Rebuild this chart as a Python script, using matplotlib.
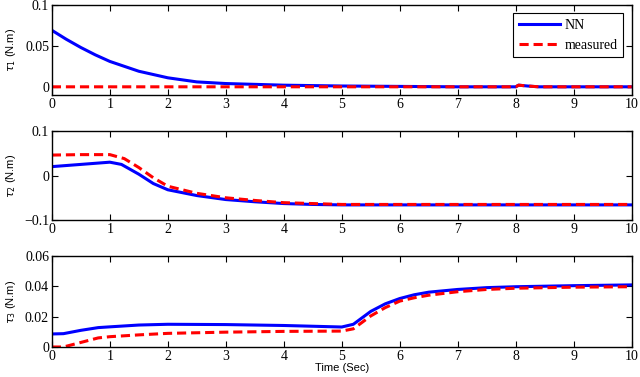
import matplotlib
matplotlib.use("Agg")
import matplotlib.pyplot as plt

# tau_1
t1_nn = [0, 0.25, 0.5, 0.75, 1, 1.25, 1.5, 1.75, 2, 2.5, 3, 3.5, 4, 5, 6, 7, 8, 8.05, 8.2, 8.4, 10]
y1_nn = [0.069, 0.058, 0.048, 0.039, 0.031, 0.025, 0.019, 0.015, 0.011, 0.006, 0.004, 0.003, 0.002, 0.001, 0.0005, 0, 0, 0.002, 0.001, 0, 0]
t1_me = [0, 8, 8.05, 8.2, 8.4, 10]
y1_me = [0, 0, 0.002, 0.001, 0, 0]

# tau_2
t2_nn = [0, 0.5, 1, 1.2, 1.5, 1.75, 2, 2.5, 3, 3.5, 4, 4.5, 5, 10]
y2_nn = [0.02, 0.025, 0.03, 0.025, 0.003, -0.018, -0.032, -0.045, -0.054, -0.059, -0.063, -0.065, -0.066, -0.066]
t2_me = [0, 0.5, 1, 1.25, 1.5, 1.75, 2, 2.5, 3, 3.5, 4, 4.5, 5, 10]
y2_me = [0.046, 0.047, 0.047, 0.038, 0.018, -0.005, -0.024, -0.04, -0.05, -0.056, -0.061, -0.063, -0.065, -0.065]

# tau_3
t3_nn = [0, 0.2, 0.5, 0.8, 1, 1.5, 2, 3, 4, 5, 5.2, 5.5, 5.75, 6, 6.25, 6.5, 7, 7.5, 8, 9, 10]
y3_nn = [0.0086, 0.0088, 0.011, 0.0128, 0.0133, 0.0145, 0.015, 0.0148, 0.0142, 0.0132, 0.015, 0.0235, 0.0285, 0.032, 0.0345, 0.0362, 0.038, 0.0392, 0.0398, 0.0405, 0.041]
t3_me = [0, 0.2, 0.5, 0.8, 1, 1.5, 2, 3, 4, 5, 5.2, 5.5, 5.75, 6, 6.25, 6.5, 7, 7.5, 8, 9, 10]
y3_me = [0, 0, 0.003, 0.006, 0.0068, 0.008, 0.009, 0.0098, 0.0103, 0.0105, 0.012, 0.0205, 0.026, 0.0303, 0.0325, 0.0342, 0.0365, 0.038, 0.0388, 0.0395, 0.0398]

ylabels = ["$\\tau_1$ (N.m)", "$\\tau_2$ (N.m)", "$\\tau_3$ (N.m)"]
ylims = [(-0.01, 0.1), (-0.1, 0.1), (0, 0.06)]
yticks = [[0, 0.05, 0.1], [-0.1, 0, 0.1], [0, 0.02, 0.04, 0.06]]
yticklabels = [["0", "0.05", "0.1"], ["\u22120.1", "0", "0.1"], ["0", "0.02", "0.04", "0.06"]]

plt.rcParams["mathtext.fontset"] = "dejavusans"
fig = plt.figure(figsize=(6.4, 3.77), dpi=100)
positions = [[0.081, 0.748, 0.906, 0.239], [0.081, 0.4164, 0.906, 0.236], [0.081, 0.0796, 0.906, 0.241]]
data = [(t1_nn, y1_nn, t1_me, y1_me), (t2_nn, y2_nn, t2_me, y2_me), (t3_nn, y3_nn, t3_me, y3_me)]

for i in range(3):
    ax = fig.add_axes(positions[i])
    tn, yn, tm, ym = data[i]
    ax.plot(tn, yn, color="#0000ff", lw=2.2, label="NN")
    ax.plot(tm, ym, color="#ff0000", lw=2.2, ls=(0, (3, 1.6)), label="measured")
    ax.set_xlim(0, 10)
    ax.set_ylim(*ylims[i])
    ax.set_xticks(range(11))
    ax.set_xticklabels([str(k) for k in range(11)], family="Liberation Serif", fontsize=10)
    ax.set_yticks(yticks[i])
    ax.set_yticklabels(yticklabels[i], family="Liberation Serif", fontsize=10)
    ax.tick_params(direction="in", top=True, right=True, length=4, width=0.8, pad=2)
    ax.set_ylabel(ylabels[i], family="Liberation Sans", fontsize=8)
    ax.yaxis.set_label_coords(-0.058, 0.5)
    for s in ax.spines.values():
        s.set_linewidth(1.0)
    if i == 0:
        leg = ax.legend(loc="upper right", prop={"family": "Liberation Serif", "size": 10},
                        fancybox=False, edgecolor="black", framealpha=1, handlelength=3.0,
                        borderaxespad=0.6, handletextpad=0.3)
        leg.get_frame().set_linewidth(0.8)
    if i == 2:
        ax.set_xlabel("Time (Sec)", family="Liberation Sans", fontsize=8, labelpad=0)

fig.savefig("out.png", dpi=100)
